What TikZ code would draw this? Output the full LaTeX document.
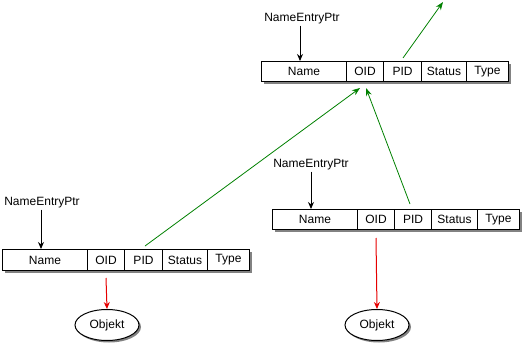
\documentclass[tikz,border=0pt]{standalone}
\usepackage{fontspec}
\setmainfont{Liberation Sans}
\usetikzlibrary{arrows.meta,shapes.geometric}
\definecolor{lnkgreen}{RGB}{0,128,0}
\definecolor{lnkred}{RGB}{230,0,0}
\definecolor{shadowgray}{RGB}{130,130,130}
\tikzset{
  cell/.style={draw=black, line width=1pt, fill=white, inner sep=0pt, minimum height=20pt, anchor=north west, font=\fontsize{12}{14}\selectfont},
  shadowbox/.style={fill=shadowgray, draw=none},
  lbl/.style={font=\fontsize{12}{14}\selectfont, inner sep=1pt},
  ptr/.style={draw=black, line width=1pt, -{Stealth[length=7pt,width=6pt]}},
  glink/.style={draw=lnkgreen, line width=0.8pt, -{Stealth[length=8pt,width=6pt]}},
  rlink/.style={draw=lnkred, line width=1pt, -{Stealth[length=7pt,width=6pt]}},
  obj/.style={ellipse, draw=black, line width=1pt, fill=white, minimum width=64pt, minimum height=31pt, inner sep=0pt, font=\fontsize{12}{14}\selectfont},
  objshadow/.style={ellipse, fill=shadowgray, draw=none, minimum width=64pt, minimum height=31pt, inner sep=0pt}
}
\begin{document}
\begin{tikzpicture}[x=1pt,y=-1pt]
\useasboundingbox (0,0) rectangle (523,351);
% ---------- top record ----------
\fill[shadowbox] (264,64) rectangle (511,84);
\node[cell, minimum width=85pt] (t-name) at (261,61) {Name};
\node[cell, minimum width=37pt] (t-oid) at (346,61) {OID};
\node[cell, minimum width=38pt] (t-pid) at (383,61) {PID};
\node[cell, minimum width=45pt] (t-status) at (421,61) {Status};
\node[cell, minimum width=42pt] (t-type) at (466,61) {Type};
\node[lbl] (t-lbl) at (302,19) {NameEntryPtr};
% ---------- left record ----------
\fill[shadowbox] (5,252) rectangle (252,273);
\node[cell, minimum width=85pt, minimum height=21pt] (l-name) at (2,249) {Name};
\node[cell, minimum width=37pt, minimum height=21pt] (l-oid) at (87,249) {OID};
\node[cell, minimum width=38pt, minimum height=21pt] (l-pid) at (124,249) {PID};
\node[cell, minimum width=45pt, minimum height=21pt] (l-status) at (162,249) {Status};
\node[cell, minimum width=42pt, minimum height=21pt] (l-type) at (207,249) {Type};
\node[lbl] (l-lbl) at (42,203) {NameEntryPtr};
% ---------- right record ----------
\fill[shadowbox] (275,212) rectangle (522,232);
\node[cell, minimum width=85pt] (r-name) at (272,209) {Name};
\node[cell, minimum width=37pt] (r-oid) at (357,209) {OID};
\node[cell, minimum width=37pt] (r-pid) at (394,209) {PID};
\node[cell, minimum width=46pt] (r-status) at (431,209) {Status};
\node[cell, minimum width=42pt] (r-type) at (477,209) {Type};
\node[lbl] (r-lbl) at (311,165) {NameEntryPtr};
% ---------- objects ----------
\node[objshadow] at (109,327) {};
\node[obj] (l-obj) at (107,325) {Objekt};
\node[objshadow] at (379,327) {};
\node[obj] (r-obj) at (377,325) {Objekt};
% ---------- coordinates ----------
\coordinate (t-out) at (443,2);
\coordinate (t-in1) at (360,88);
\coordinate (t-in2) at (366,88);
\coordinate (l-ps) at (145,246);
\coordinate (r-ps) at (410,204);
\coordinate (t-ps) at (403,58);
\coordinate (l-os) at (106,278);
\coordinate (r-os) at (376,238);
% ---------- pointers ----------
\draw[ptr] (t-lbl.south -| 300,0) -- (300,61);
\draw[ptr] (l-lbl.south -| 41,0) -- (41,249);
\draw[ptr] (r-lbl.south -| 311,0) -- (311,209);
% ---------- green links ----------
\draw[glink] (t-ps) -- (t-out);
\draw[glink] (l-ps) -- (t-in1);
\draw[glink] (r-ps) -- (t-in2);
% ---------- red links ----------
\draw[rlink] (l-os) -- (l-obj.north);
\draw[rlink] (r-os) -- (r-obj.north);
\end{tikzpicture}
\end{document}
